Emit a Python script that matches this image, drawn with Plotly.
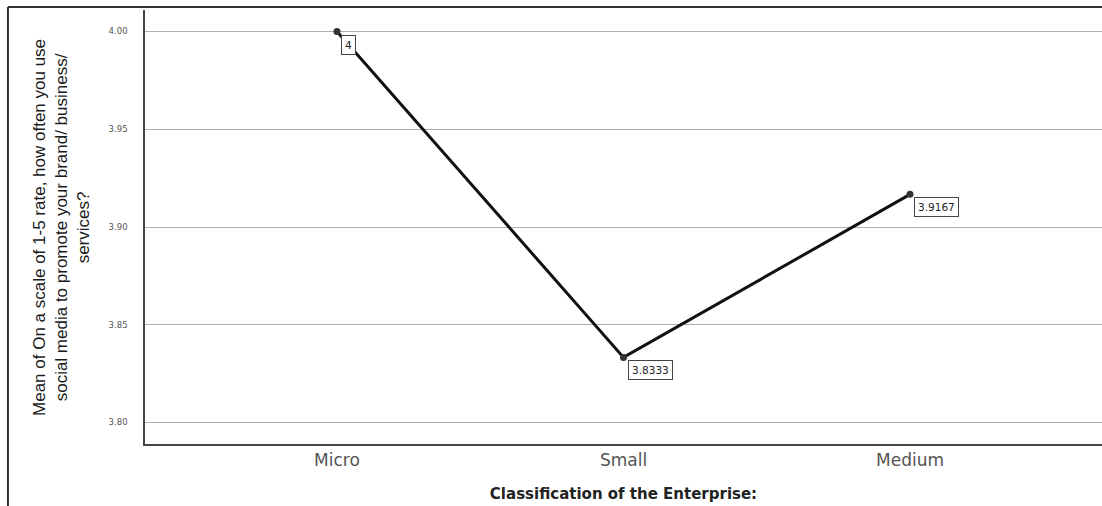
import plotly.graph_objects as go

categories = ["Micro", "Small", "Medium"]
means = [4.0, 3.8333, 3.9167]
mean_labels = ["4", "3.8333", "3.9167"]
y_ticks = [3.80, 3.85, 3.90, 3.95, 4.00]
y_tick_text = ["3.80", "3.85", "3.90", "3.95", "4.00"]

x_pos = list(range(len(categories)))

fig = go.Figure()
fig.add_trace(go.Scatter(
    x=x_pos, y=means, mode="lines+markers",
    line=dict(color="#111111", width=3),
    marker=dict(color="#333333", size=7),
    hoverinfo="skip", showlegend=False,
))

for xv, yv, txt in zip(x_pos, means, mean_labels):
    fig.add_annotation(
        x=xv, y=yv, text=txt, showarrow=False,
        xanchor="left", yanchor="top", xshift=4, yshift=-3,
        font=dict(family="DejaVu Sans", size=10.5, color="#222222"),
        bgcolor="white", bordercolor="#444444", borderwidth=1, borderpad=3,
    )

# y-axis title placed as a rotated annotation
fig.add_annotation(
    xref="paper", yref="paper", x=-0.0878, y=0.5,
    text="Mean of On a scale of 1-5 rate, how often you use<br>"
         "social media to promote your brand/ business/<br>services?",
    textangle=-90, showarrow=False, xanchor="center", yanchor="middle",
    font=dict(family="Liberation Sans, Arial", size=17, color="#1a1a1a"),
)

# outer frame around the chart panel
fig.add_shape(type="line", xref="paper", yref="paper",
              x0=-0.1432, x1=-0.1432, y0=1.0069, y1=-0.15,
              line=dict(color="#333333", width=2))
fig.add_shape(type="line", xref="paper", yref="paper",
              x0=-0.1432, x1=1.01, y0=1.0069, y1=1.0069,
              line=dict(color="#333333", width=2))

fig.update_layout(
    width=1102, height=506,
    margin=dict(l=145, r=0, t=10, b=62),
    paper_bgcolor="white", plot_bgcolor="white",
    font=dict(family="DejaVu Sans", color="#222222"),
    xaxis=dict(
        range=[-0.67, 2.67], tickvals=x_pos, ticktext=categories,
        showgrid=False, zeroline=False,
        showline=True, linecolor="#444444", linewidth=1.5,
        ticks="", tickfont=dict(family="DejaVu Sans", size=17, color="#555555"),
        title=dict(text="<b>Classification of the Enterprise:</b>",
                   font=dict(family="DejaVu Sans", size=15, color="#222222"),
                   standoff=19),
    ),
    yaxis=dict(
        range=[3.789, 4.011], tickvals=y_ticks, ticktext=y_tick_text,
        showgrid=True, gridcolor="#b0b0b0", gridwidth=1.2, zeroline=False,
        showline=True, linecolor="#444444", linewidth=1.5,
        ticks="", tickfont=dict(family="DejaVu Sans", size=8.5, color="#555555"),
        ticklabelstandoff=14,
    ),
)

fig.write_html("out.html")
